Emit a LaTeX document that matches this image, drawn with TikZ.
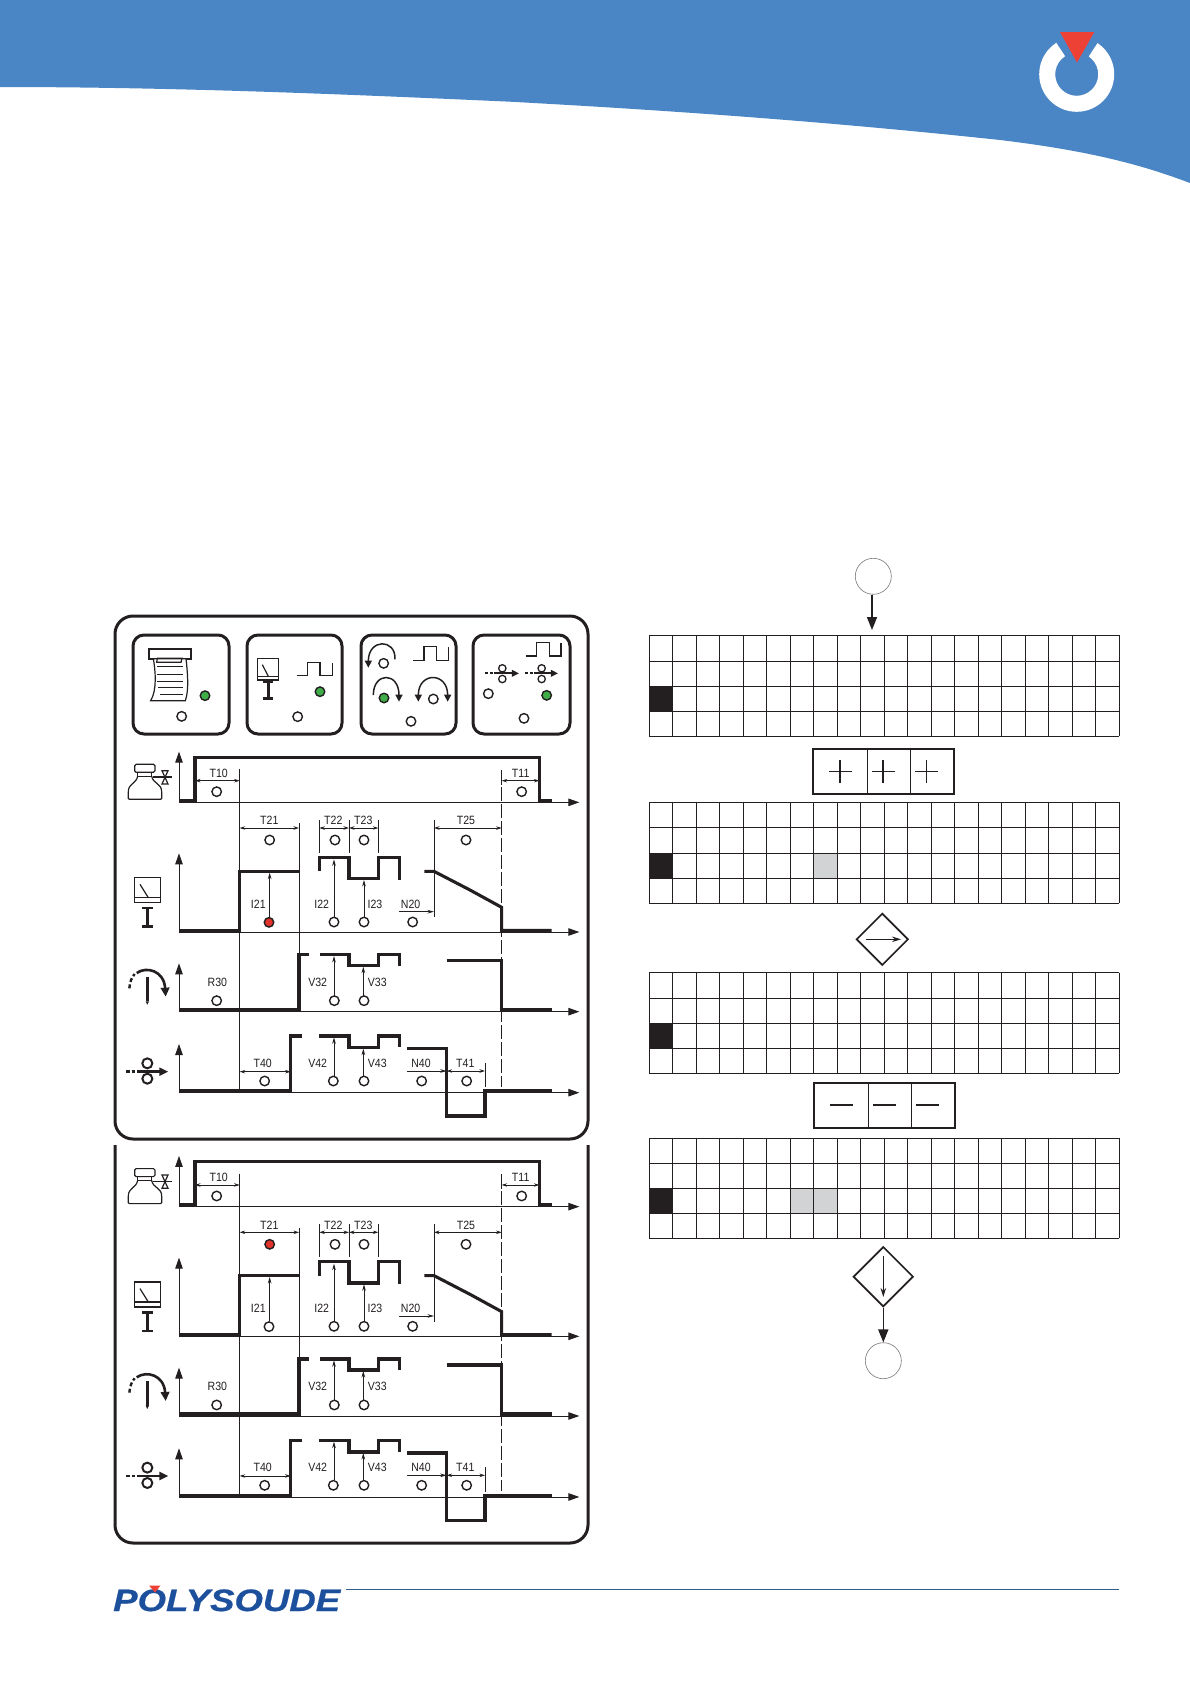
\documentclass[tikz,border=0pt]{standalone}
\usepackage{fontspec}
\setmainfont{Liberation Sans}
\newfontfamily\lab[FakeStretch=0.88]{Liberation Sans}
\newfontfamily\brand[FakeStretch=1.18,FakeBold=0.6]{Liberation Sans}
\usetikzlibrary{arrows.meta,shapes.geometric}
\definecolor{hdr}{HTML}{4A86C5}
\definecolor{redt}{HTML}{EE4135}
\definecolor{ink}{HTML}{231F20}
\definecolor{cellg}{HTML}{D1D3D4}
\definecolor{lampg}{HTML}{3FAE49}
\definecolor{lampr}{HTML}{E0332B}
\definecolor{brandb}{HTML}{1C4F9C}
\tikzset{
  sig/.style={line width=3.1pt,ink,line join=miter},
  thinl/.style={line width=.9pt,ink},
  axisx/.style={line width=.9pt,ink,-{Triangle[length=11pt,width=7.5pt]}},
  dimb/.style={line width=.8pt,ink,{Stealth[length=5.5pt,width=3.5pt]}-{Stealth[length=5.5pt,width=3.5pt]}},
  dimr/.style={line width=.8pt,ink,-{Stealth[length=6.5pt,width=3.6pt]}},
  lab/.style={font=\lab\fontsize{12}{12}\selectfont,text=ink,inner sep=0pt},
  lampc/.style={circle,draw=ink,line width=1.4pt,minimum size=9.5pt,inner sep=0pt,fill=white},
  iconl/.style={line width=1.2pt,ink},
  panelbox/.style={draw=ink,line width=3pt,rounded corners=11pt},
  bigtip/.style={line width=1.6pt,ink,-{Triangle[length=13pt,width=10pt]}},
  gridl/.style={line width=.9pt,ink},
  roundc/.style={circle,draw=ink!60,line width=.6pt,minimum size=36pt,inner sep=0pt},
  decis/.style={diamond,draw=ink,line width=1.7pt,inner sep=0pt,aspect=1},
  optbox/.style={draw=ink,line width=2pt,minimum height=45pt,inner sep=0pt},
}
% #1 y origin, #2 node prefix, #3 fill of I21 lamp, #4 fill of T21 lamp
\newcommand{\timing}[4]{%
\begin{scope}[shift={(100,#1)},x=.33333pt,y=-.33333pt]
 \draw[thinl] (419,-92) -- (419,873);
 \draw[thinl] (597,70) -- (597,460);
 \draw[ink,dash pattern=on 14pt off 3pt,line width=.6pt] (1205,-90) -- (1205,860);
 \foreach \ya/\yb in {7/-145,396/160,635/490,878/732}{
   \draw[axisx] (237,\ya) -- (1438,\ya);
   \draw[axisx] (237,\ya) -- (237,\yb);
 }
 \draw[sig] (237,2) -- (285,2) -- (285,-128) -- (1318,-128) -- (1318,2) -- (1355,2);
 \draw[dimb] (285,-58) -- (419,-58);
 \draw[dimb] (1205,-58) -- (1318,-58);
 \draw[thinl] (1205,-90) -- (1205,-45);
 \draw[sig] (237,391) -- (419,391) -- (419,214) -- (597,214);
 \draw[sig] (658,214) -- (658,172) -- (747,172) -- (747,236) -- (835,236) -- (835,172) -- (898,172) -- (898,240);
 \draw[sig] (973,214) -- (1002,214) -- (1110,270) -- (1205,322) -- (1205,391) -- (1355,391);
 \draw[thinl] (658,60) -- (658,158);
 \draw[thinl] (747,60) -- (747,158);
 \draw[thinl] (835,60) -- (835,158);
 \draw[thinl] (1002,60) -- (1002,352);
 \draw[dimb] (419,84) -- (597,84);
 \draw[dimb] (658,84) -- (747,84);
 \draw[dimb] (747,84) -- (835,84);
 \draw[dimb] (1002,84) -- (1205,84);
 \draw[dimr] (509,350) -- (509,218);
 \draw[dimr] (702,352) -- (702,178);
 \draw[dimr] (792,352) -- (792,240);
 \draw[dimr] (898,335) -- (1002,335);
 \draw[sig] (237,629) -- (597,629) -- (597,464) -- (627,464);
 \draw[sig] (660,464) -- (747,464) -- (747,497) -- (835,497) -- (835,464) -- (898,464) -- (898,498);
 \draw[sig] (1040,482) -- (1205,482) -- (1205,629) -- (1355,629);
 \draw[dimr] (702,588) -- (702,468);
 \draw[dimr] (790,588) -- (790,500);
 \draw[sig] (237,873) -- (572,873) -- (572,708) -- (606,708);
 \draw[sig] (658,708) -- (747,708) -- (747,743) -- (835,743) -- (835,708) -- (898,708) -- (898,742);
 \draw[sig] (922,746) -- (1040,746) -- (1040,948) -- (1155,948) -- (1155,873) -- (1355,873);
 \draw[dimb] (419,815) -- (572,815);
 \draw[dimb] (1040,813) -- (1155,813);
 \draw[dimr] (922,813) -- (1040,813);
 \draw[thinl] (1155,788) -- (1155,862);
 \draw[dimr] (702,828) -- (702,712);
 \draw[dimr] (790,828) -- (790,746);
 \foreach \nm/\tx/\xx/\yy in {a/T10/356/-80,b/T11/1262/-80,c/T21/508/62,d/T22/700/62,e/T23/790/62,f/T25/1098/62,
   g/I21/475/312,h/I22/665/312,i/I23/825/312,j/N20/932/312,k/R30/352/547,l/V32/653/547,m/V33/832/547,
   n/T40/488/790,o/V42/653/790,p/V43/832/790,q/N40/963/790,r/T41/1096/790}{
   \node[lab] (#2\nm) at (\xx,\yy) {\tx};
 }
 \foreach \nm/\xx/\yy in {a/350/-25,b/1265/-25,d/705/120,e/792/120,f/1098/120,
   h/702/366,i/792/366,j/938/366,k/350/602,l/703/602,m/792/602,n/494/843,o/700/843,p/792/843,q/965/843,r/1100/843}{
   \node[lampc] (#2L\nm) at (\xx,\yy) {};
 }
 \node[lampc,fill=#3] (#2Lg) at (507,367) {};
 \node[lampc,fill=#4] (#2Lc) at (509,120) {};
 % gas bottle
 \draw[iconl,rounded corners=1.5pt] (104,-107) rectangle (165,-83);
 \draw[iconl] (113,-83) -- (113,-71) -- (155,-71) -- (155,-83);
 \draw[iconl,rounded corners=1pt] (113,-71) .. controls (108,-48) and (85,-50) .. (85,-22) -- (85,-2) -- (185,-2) -- (185,-22) .. controls (185,-50) and (160,-48) .. (155,-71);
 \draw[iconl] (160,-69) -- (215,-69);
 \draw[iconl] (186,-88) -- (204,-88) -- (186,-48) -- (204,-48) -- cycle;
 % meter
 \draw[iconl,fill=white] (103,233) rectangle (181,308);
 \draw[iconl] (103,293) -- (181,293);
 \draw[iconl] (120,253) -- (145,293);
 \draw[line width=2.8pt,ink] (142,324) -- (142,380) (126,324) -- (159,324) (126,380) -- (159,380);
 % rotation
 \draw[line width=2.8pt,ink] (142,530) -- (142,604);
 \fill[ink] (137,604) -- (147,604) -- (142,614) -- cycle;
 \draw[line width=2.6pt,ink,-{Triangle[length=9pt,width=8.5pt]}] (110,519) .. controls (140,498) and (192,512) .. (197,590);
 \draw[line width=2.4pt,ink,dash pattern=on 4pt off 2.5pt] (88,565) .. controls (90,545) and (95,532) .. (104,522);
 % rollers
 \draw[line width=2pt,ink] (142,790) circle [radius=15];
 \draw[line width=2pt,ink] (142,836) circle [radius=15];
 \draw[line width=2.6pt,ink,dash pattern=on 3.5pt off 2pt] (78,815) -- (116,815);
 \draw[line width=2.6pt,ink,-{Triangle[length=9pt,width=8pt]}] (118,815) -- (205,815);
\end{scope}}
% #1..#5 row lines, #6 grey columns
\newcommand{\gridb}[6]{%
 \foreach \cc in {#6} {\fill[cellg] ({649.3+23.5*\cc},#3) rectangle ({649.3+23.5*(\cc+1)},#4);}
 \fill[ink] (649.3,#3) rectangle (672.8,#4);
 \foreach \cc in {0,...,20} {\draw[gridl] ({649.3+23.5*\cc},#1) -- ({649.3+23.5*\cc},#5);}
 \foreach \yy in {#1,#2,#3,#4,#5} {\draw[gridl] (649.3,\yy) -- (1119.3,\yy);}
}
\begin{document}
\begin{tikzpicture}[x=1pt,y=-1pt]
\useasboundingbox (0,0) rectangle (1190,1684);
\fill[white] (0,0) rectangle (1190,1684);
% header
\fill[hdr] (0,0) -- (1190,0) -- (1190,183) .. controls (1150,168) and (1100,152) .. (1000,140) .. controls (850,124) and (700,112) .. (510,101.7) .. controls (340,94) and (170,87) .. (0,87) -- cycle;
\fill[white,even odd rule] (1076.7,74.3) circle [radius=37.5] (1076.7,74.3) circle [radius=21.5];
\fill[hdr] (1077,74) -- (1050,33) -- (1104,33) -- cycle;
\fill[redt] (1060,32) -- (1094.3,32) -- (1077,62.5) -- cycle;
% panels
\draw[draw=ink,line width=3pt,rounded corners=18pt] (115,616) rectangle (588,1139);
\draw[draw=ink,line width=3pt,rounded corners=18pt] (115,1145) -- (115,1543) -- (588,1543) -- (588,1145);
% boxes
\node[panelbox,minimum width=96pt,minimum height=99pt] (box1) at (181,684.5) {};
\node[panelbox,minimum width=95pt,minimum height=99pt] (box2) at (294.5,684.5) {};
\node[panelbox,minimum width=95pt,minimum height=99pt] (box3) at (408.5,684.5) {};
\node[panelbox,minimum width=97pt,minimum height=99pt] (box4) at (521.5,684.5) {};
\begin{scope}[shift={(100,600)},x=.33333pt,y=-.33333pt]
 \draw[line width=2.2pt,ink] (147,178) -- (147,148) -- (273,148) -- (273,178) -- cycle;
 \draw[line width=1.2pt,ink,fill=white] (160,176) .. controls (166,210) and (172,270) .. (152,302) -- (256,302) .. controls (268,270) and (262,210) .. (258,176) -- cycle;
 \draw[line width=1.2pt,ink] (172,175) -- (246,175) -- (243,187) -- (170,187) -- cycle;
 \foreach \yy/\xa/\xb in {200/172/248,222/172/248,243/172/248,262/175/250,283/180/248}{\draw[line width=1pt,ink] (\xa,\yy) -- (\xb,\yy);}
 \node[lampc,fill=lampg] (l1a) at (315,287) {};
 \node[lampc] (l1b) at (245,349) {};
 \draw[iconl] (473,175) rectangle (535,240);
 \draw[iconl] (473,229) -- (535,229);
 \draw[iconl] (487,194) -- (505,229);
 \draw[line width=2.4pt,ink] (505,246) -- (505,296) (490,246) -- (520,246) (490,296) -- (520,296);
 \draw[iconl] (592,227) -- (622,227) -- (622,188) -- (660,188) -- (660,227) -- (697,227) -- (697,188);
 \node[lampc,fill=lampg] (l2a) at (660,275) {};
 \node[lampc] (l2b) at (593,350) {};
 \draw[line width=1.5pt,ink,-{Triangle[length=7pt,width=7pt]}] (885,178) .. controls (888,115) and (805,115) .. (805,203);
 \node[lampc] (l3a) at (851,190) {};
 \draw[iconl] (940,182) -- (972,182) -- (972,140) -- (1010,140) -- (1010,182) -- (1045,182) -- (1045,140);
 \draw[line width=1.5pt,ink,-{Triangle[length=7pt,width=7pt]}] (820,285) .. controls (820,215) and (897,215) .. (897,305);
 \node[lampc,fill=lampg] (l3b) at (852,294) {};
 \draw[line width=1.5pt,ink,{Triangle[length=7pt,width=7pt]}-{Triangle[length=7pt,width=7pt]}] (955,305) .. controls (955,215) and (1043,215) .. (1043,305);
 \node[lampc] (l3c) at (1000,297) {};
 \node[lampc] (l3d) at (933,364) {};
 \draw[iconl] (1278,168) -- (1310,168) -- (1310,128) -- (1348,128) -- (1348,168) -- (1383,168) -- (1383,128);
 \draw[line width=1.3pt,ink] (1207,205) circle [radius=11] (1207,237) circle [radius=11];
 \draw[line width=1.3pt,ink] (1325,205) circle [radius=11] (1325,237) circle [radius=11];
 \draw[line width=2.2pt,ink,dash pattern=on 3pt off 1.7pt] (1155,220) -- (1190,220);
 \draw[line width=2.2pt,ink,-{Triangle[length=7pt,width=6.5pt]}] (1190,220) -- (1257,220);
 \draw[line width=2.2pt,ink,dash pattern=on 3pt off 1.7pt] (1275,220) -- (1308,220);
 \draw[line width=2.2pt,ink,-{Triangle[length=7pt,width=6.5pt]}] (1308,220) -- (1374,220);
 \node[lampc] (l4a) at (1165,281) {};
 \node[lampc,fill=lampg] (l4b) at (1340,286) {};
 \node[lampc] (l4c) at (1272,355) {};
\end{scope}
\timing{800}{u}{lampr}{white}
\timing{1204.3}{v}{white}{lampr}
% right column
\gridb{635.3}{661.3}{686.3}{711.3}{736}{}
\gridb{802.3}{827.3}{853.3}{878.3}{903}{7}
\gridb{972.7}{998.3}{1023.3}{1048.3}{1073.3}{}
\gridb{1138.3}{1163.3}{1188.3}{1213.3}{1238.3}{6,7}
\coordinate (gridtop) at (872,630);
\node[roundc] (start) at (873.3,576.3) {};
\draw[bigtip] (start.south -| gridtop) -- (gridtop);
% plus
\node[optbox,minimum width=141pt] (plusbox) at (883.8,771.5) {};
\draw[line width=1pt,ink] (867.3,749) -- (867.3,794) (910.3,749) -- (910.3,794);
\draw[line width=1pt,ink] (829,771.5) -- (852,771.5) (872,771.5) -- (895,771.5) (915,771.5) -- (938,771.5);
\draw[line width=1.7pt,ink] (840.3,760) -- (840.3,783) (883.3,760) -- (883.3,783);
\draw[line width=1pt,ink] (926.7,760) -- (926.7,783);
% first decision
\node[decis,minimum size=52pt] (dec1) at (882.3,939.3) {};
\draw[line width=1.6pt,ink,-{Stealth[length=9pt,width=5.5pt]}] (865.7,939.3) -- (901,939.3);
% minus
\node[optbox,minimum width=141pt] (minusbox) at (884.8,1105) {};
\draw[line width=1pt,ink] (868.3,1082.7) -- (868.3,1127) (911.7,1082.7) -- (911.7,1127);
\draw[line width=1.9pt,ink] (830,1104.7) -- (853,1104.7) (873,1104.7) -- (896,1104.7) (916,1104.7) -- (939,1104.7);
% second decision
\node[decis,minimum size=60pt] (dec2) at (883.3,1276.7) {};
\draw[line width=1.6pt,ink,-{Stealth[length=9pt,width=5.5pt]}] (883.3,1256) -- (883.3,1297);
\node[roundc] (finish) at (883.3,1360.7) {};
\draw[bigtip] (dec2.south) -- (finish.north);
% footer
\node[font=\brand\bfseries\itshape\fontsize{31}{31}\selectfont,text=brandb,inner sep=0pt,anchor=base west] (brand) at (113,1611) {POLYSOUDE};
\fill[redt] (149,1585.5) -- (160.5,1585.5) -- (155,1592.5) -- cycle;
\coordinate (ruleend) at (1119,1589.3);
\draw[line width=1pt,color=hdr!70!black] (346,1589.3) -- (ruleend);
\end{tikzpicture}
\end{document}
